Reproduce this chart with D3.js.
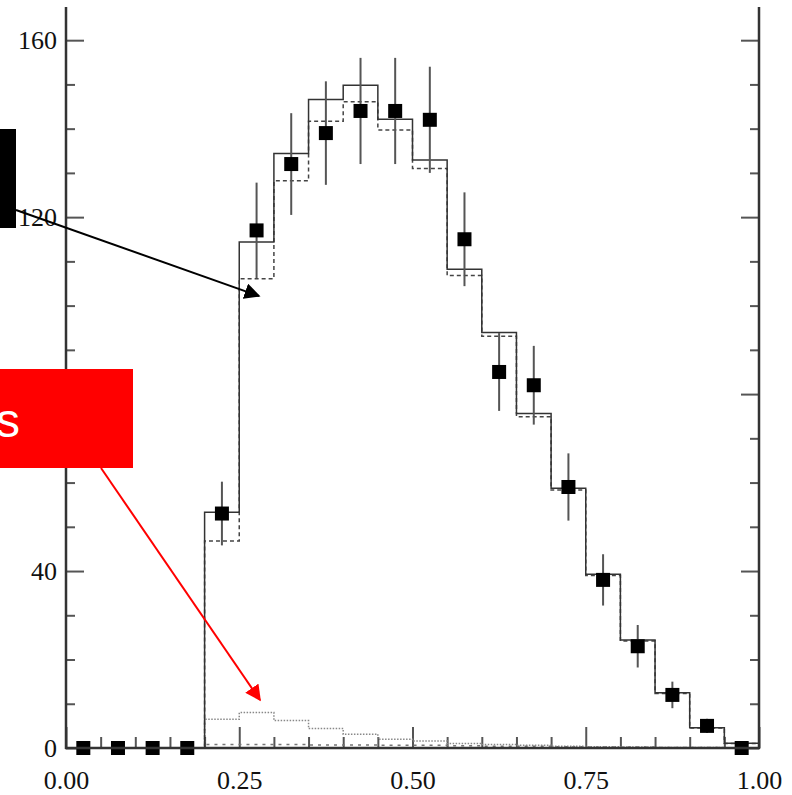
<!DOCTYPE html>
<html>
<head>
<meta charset="utf-8">
<script src="https://cdn.jsdelivr.net/npm/d3@7"></script>
<style>
  body { margin: 0; background: #fff; }
  svg { display: block; }
  .tick text { font-family: "Liberation Serif", "DejaVu Serif", serif; font-size: 26px; fill: #111; }
</style>
</head>
<body>
<div id="chart"></div>
<script>
// bin low edges, width 0.05
var binEdges = [0.00, 0.05, 0.10, 0.15, 0.20, 0.25, 0.30, 0.35, 0.40, 0.45,
                0.50, 0.55, 0.60, 0.65, 0.70, 0.75, 0.80, 0.85, 0.90, 0.95];
var binWidth = 0.05;

// data points + errors
var dataCounts = [0, 0, 0, 0, 53, 117, 132, 139, 144, 144, 142, 115, 85, 82, 59, 38, 23, 12, 5, 0];
var dataErrors = [0, 0, 0, 0, 7.2, 10.8, 11.5, 11.7, 12, 12, 12, 10.6, 8.8, 8.9, 7.6, 5.8, 4.8, 3, 1.6, 0];

// histograms
var totalMC = [0, 0, 0, 0, 53.3, 114.4, 134.4, 146.6, 149.8, 142.1, 132.9, 108.2, 93.9, 75.6, 58.7, 39.3, 24.4, 12.5, 4.6, 1.1];
var signalMC = [0, 0, 0, 0, 46.8, 106.1, 128.2, 141.7, 146.1, 139.7, 131.0, 106.8, 93.1, 74.9, 58.3, 39.0, 24.2, 12.3, 4.5, 1.0];
var backgroundMC = [0, 0, 0, 0, 6.5, 8.0, 6.2, 4.4, 3.1, 2.0, 1.6, 1.0, 0.8, 0.6, 0.4, 0.3, 0.2, 0.1, 0.1, 0];
var otherMC = [0, 0, 0, 0, 0.8, 0.8, 0.8, 0.7, 0.7, 0.6, 0.6, 0.5, 0.4, 0.4, 0.3, 0.2, 0.2, 0.1, 0.1, 0];

var xTicks = [0, 0.25, 0.5, 0.75, 1.0];
var xMinorTicks = [0.05, 0.10, 0.15, 0.20, 0.30, 0.35, 0.40, 0.45, 0.55, 0.60, 0.65, 0.70, 0.80, 0.85, 0.90, 0.95];
var yTicks = [0, 40, 80, 120, 160];
var yMinorTicks = [10, 20, 30, 50, 60, 70, 90, 100, 110, 130, 140, 150];

var W = 792, H = 795;
var svg = d3.select('#chart').append('svg')
    .attr('width', W)
    .attr('height', H);

var x = d3.scaleLinear().domain([0, 1]).range([66, 759]);
var y = d3.scaleLinear().domain([0, 167.5]).range([748, 7]);

// axes, ticks pointing inward
var drawAxis = function(axis, tx, ty, cls){
    var g = svg.append('g')
        .attr('class', cls)
        .attr('transform', 'translate(' + tx + ',' + ty + ')')
        .call(axis);
    g.select('.domain').remove();
    g.selectAll('.tick line').attr('stroke', '#555').attr('stroke-width', 2);
    return g;
};

drawAxis(d3.axisBottom(x).tickValues(xTicks).tickSize(-21).tickPadding(23).tickFormat(d3.format('.2f')), 0, 748, 'xaxis');
drawAxis(d3.axisBottom(x).tickValues(xMinorTicks).tickSize(-11).tickFormat(''), 0, 748, 'xminor');
drawAxis(d3.axisLeft(y).tickValues(yTicks).tickSize(-18).tickPadding(9), 66, 0, 'yaxis');
drawAxis(d3.axisLeft(y).tickValues(yMinorTicks).tickSize(-9).tickFormat(''), 66, 0, 'yminor');
drawAxis(d3.axisRight(y).tickValues(yTicks).tickSize(-18).tickFormat(''), 759, 0, 'yright');
drawAxis(d3.axisRight(y).tickValues(yMinorTicks).tickSize(-9).tickFormat(''), 759, 0, 'yrightminor');

// step histograms
var stepLine = d3.line()
    .x(function(d){ return x(d[0]); })
    .y(function(d){ return y(d[1]); })
    .curve(d3.curveStepAfter);

var histPoints = function(vals){
    var pts = binEdges.map(function(e, i){ return [e, vals[i]]; });
    pts.push([binEdges[binEdges.length - 1] + binWidth, vals[vals.length - 1]]);
    pts.push([binEdges[binEdges.length - 1] + binWidth, 0]);
    return pts;
};

svg.append('path').datum(histPoints(otherMC))
    .attr('d', stepLine).attr('fill', 'none')
    .attr('stroke', '#777').attr('stroke-width', 1.5).attr('stroke-dasharray', '3,5');
svg.append('path').datum(histPoints(backgroundMC))
    .attr('d', stepLine).attr('fill', 'none')
    .attr('stroke', '#888').attr('stroke-width', 1.5).attr('stroke-dasharray', '1.5,1.5');
svg.append('path').datum(histPoints(signalMC))
    .attr('d', stepLine).attr('fill', 'none')
    .attr('stroke', '#444').attr('stroke-width', 1.5).attr('stroke-dasharray', '4,3');
svg.append('path').datum(histPoints(totalMC))
    .attr('d', stepLine).attr('fill', 'none')
    .attr('stroke', '#333').attr('stroke-width', 1.5);

// data points
var pts = binEdges.map(function(e, i){
    return {x: e + binWidth / 2, v: dataCounts[i], err: dataErrors[i]};
});
svg.append('g').selectAll('line')
    .data(pts.filter(function(d){ return d.err > 0; }))
    .enter().append('line')
    .attr('x1', function(d){ return x(d.x); })
    .attr('x2', function(d){ return x(d.x); })
    .attr('y1', function(d){ return y(d.v + d.err); })
    .attr('y2', function(d){ return y(d.v - d.err); })
    .attr('stroke', '#555')
    .attr('stroke-width', 2);
svg.append('g').selectAll('rect')
    .data(pts)
    .enter().append('rect')
    .attr('x', function(d){ return x(d.x) - 7; })
    .attr('y', function(d){ return y(d.v) - 7; })
    .attr('width', 14)
    .attr('height', 14)
    .attr('fill', '#000');

// frame: left, right, bottom (no top)
var frame = svg.append('g').attr('stroke', '#333').attr('stroke-width', 2.5);
frame.append('line').attr('x1', 66).attr('x2', 66).attr('y1', 7).attr('y2', 749);
frame.append('line').attr('x1', 759).attr('x2', 759).attr('y1', 7).attr('y2', 749);
frame.append('line').attr('x1', 65).attr('x2', 760).attr('y1', 748).attr('y2', 748);

// annotations
var defs = svg.append('defs');
var arrowHead = function(id, color){
    defs.append('marker')
        .attr('id', id)
        .attr('viewBox', '0 0 10 10')
        .attr('refX', 9).attr('refY', 5)
        .attr('markerWidth', 8).attr('markerHeight', 8)
        .attr('markerUnits', 'strokeWidth')
        .attr('orient', 'auto')
        .append('path')
        .attr('d', 'M0,0 L10,5 L0,10 z')
        .attr('fill', color);
};
arrowHead('arrowBlack', '#000');
arrowHead('arrowRed', '#f00');

svg.append('rect').attr('x', 0).attr('y', 129).attr('width', 16).attr('height', 99).attr('fill', '#000');
svg.append('line')
    .attr('x1', 16).attr('y1', 210).attr('x2', 259).attr('y2', 296)
    .attr('stroke', '#000').attr('stroke-width', 2)
    .attr('marker-end', 'url(#arrowBlack)');

svg.append('rect').attr('x', 0).attr('y', 369).attr('width', 133).attr('height', 99).attr('fill', '#f00');
svg.append('text')
    .attr('x', 20).attr('y', 437)
    .attr('text-anchor', 'end')
    .attr('font-family', 'Liberation Sans, Arial, sans-serif')
    .attr('font-size', 48)
    .attr('fill', '#fff')
    .text('s');
svg.append('line')
    .attr('x1', 101).attr('y1', 468).attr('x2', 260).attr('y2', 700)
    .attr('stroke', '#f00').attr('stroke-width', 2)
    .attr('marker-end', 'url(#arrowRed)');
</script>
</body>
</html>
